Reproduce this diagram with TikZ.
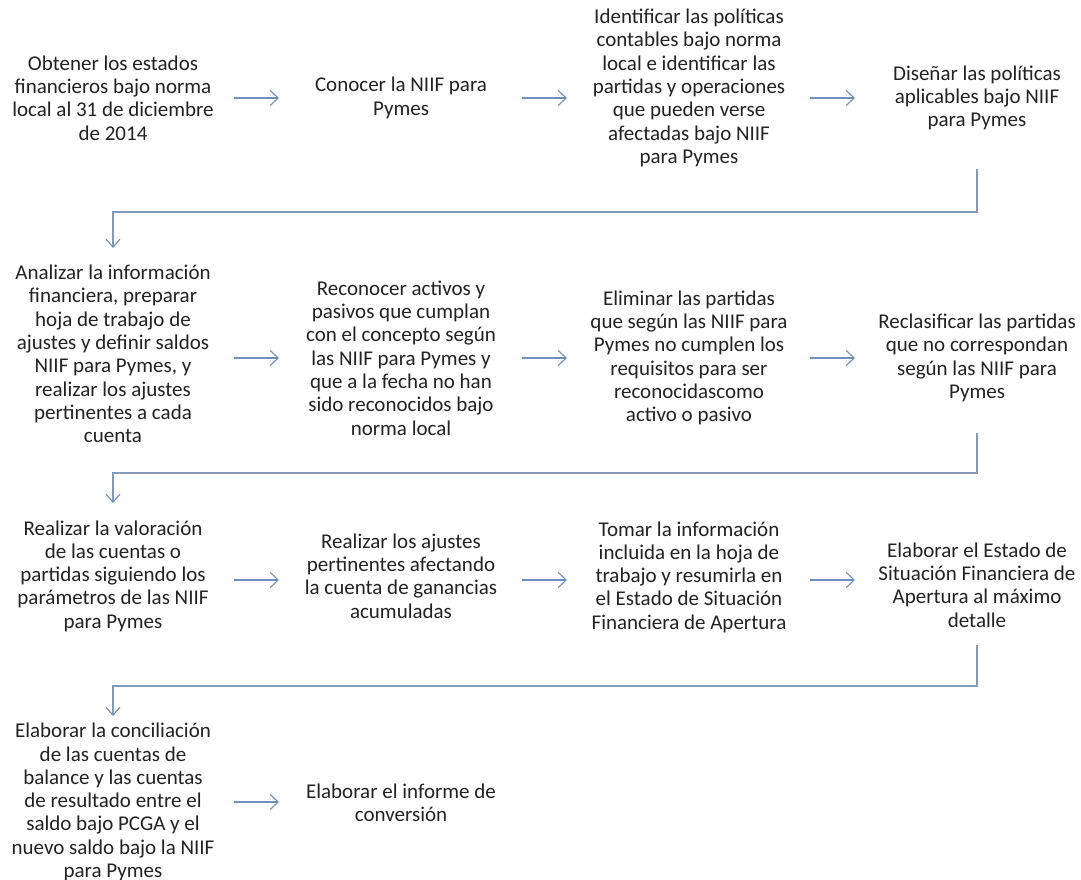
\documentclass[tikz,border=0pt]{standalone}
\usepackage{fontspec}
\setmainfont{Carlito}
\usetikzlibrary{arrows.meta}
\definecolor{txt}{RGB}{34,34,34}
\definecolor{arrowc}{RGB}{112,142,186}
\definecolor{linec}{RGB}{132,152,186}
\begin{document}
\begin{tikzpicture}[x=1pt,y=-1pt,
  stepbox/.style={align=center,inner sep=0pt,text=txt,font=\fontsize{21}{23.3}\selectfont},
  harrow/.style={draw=arrowc,line width=1.1pt,-{Straight Barb[length=8pt,width=15pt]}},
  elbow/.style={draw=linec,line width=1.1pt,-{Straight Barb[length=8pt,width=14pt,color=arrowc]}}]
\useasboundingbox[fill=white] (0,0) rectangle (1081,880);

% Row 1
\node[stepbox] (n1) at (113,98) {Obtener los estados\\financieros bajo norma\\local al 31 de diciembre\\de 2014};
\node[stepbox] (n2) at (401,98) {Conocer la NIIF para\\Pymes};
\node[stepbox] (n3) at (689,88) {Identificar las políticas\\contables bajo norma\\local e identificar las\\partidas y operaciones\\que pueden verse\\afectadas bajo NIIF\\para Pymes};
\node[stepbox] (n4) at (977,98) {Diseñar las políticas\\aplicables bajo NIIF\\para Pymes};

% Row 2
\node[stepbox] (n5) at (113,354) {Analizar la información\\financiera, preparar\\hoja de trabajo de\\ajustes y definir saldos\\NIIF para Pymes, y\\realizar los ajustes\\pertinentes a cada\\cuenta};
\node[stepbox] (n6) at (401,358) {Reconocer activos y\\pasivos que cumplan\\con el concepto según\\las NIIF para Pymes y\\que a la fecha no han\\sido reconocidos bajo\\norma local};
\node[stepbox] (n7) at (689,358) {Eliminar las partidas\\que según las NIIF para\\Pymes no cumplen los\\requisitos para ser\\reconocidascomo\\activo o pasivo};
\node[stepbox] (n8) at (977,358) {Reclasificar las partidas\\que no correspondan\\según las NIIF para\\Pymes};

% Row 3
\node[stepbox] (n9) at (113,576) {Realizar la valoración\\de las cuentas o\\partidas siguiendo los\\parámetros de las NIIF\\para Pymes};
\node[stepbox] (n10) at (401,576) {Realizar los ajustes\\pertinentes afectando\\la cuenta de ganancias\\acumuladas};
\node[stepbox] (n11) at (689,577) {Tomar la información\\incluida en la hoja de\\trabajo y resumirla en\\el Estado de Situación\\Financiera de Apertura};
\node[stepbox] (n12) at (977,585) {Elaborar el Estado de\\Situación Financiera de\\Apertura al máximo\\detalle};

% Row 4
\node[stepbox] (n13) at (113,802) {Elaborar la conciliación\\de las cuentas de\\balance y las cuentas\\de resultado entre el\\saldo bajo PCGA y el\\nuevo saldo bajo la NIIF\\para Pymes};
\node[stepbox] (n14) at (401,803) {Elaborar el informe de\\conversión};

% horizontal arrow end points
\foreach \r/\y in {1/98,2/358,3/580,4/802}{
  \coordinate (a\r s1) at (234,\y); \coordinate (a\r e1) at (279,\y);
  \coordinate (a\r s2) at (522,\y); \coordinate (a\r e2) at (567,\y);
  \coordinate (a\r s3) at (810,\y); \coordinate (a\r e3) at (855,\y);
}
\draw[harrow] (a1s1) -- (a1e1);
\draw[harrow] (a1s2) -- (a1e2);
\draw[harrow] (a1s3) -- (a1e3);
\draw[harrow] (a2s1) -- (a2e1);
\draw[harrow] (a2s2) -- (a2e2);
\draw[harrow] (a2s3) -- (a2e3);
\draw[harrow] (a3s1) -- (a3e1);
\draw[harrow] (a3s2) -- (a3e2);
\draw[harrow] (a3s3) -- (a3e3);
\draw[harrow] (a4s1) -- (a4e1);

% elbow connectors between rows
\coordinate (c1a) at (977,169); \coordinate (c1b) at (113,212); \coordinate (c1c) at (113,248);
\coordinate (c2a) at (977,433); \coordinate (c2b) at (113,473); \coordinate (c2c) at (113,503);
\coordinate (c3a) at (977,645); \coordinate (c3b) at (113,686); \coordinate (c3c) at (113,716);
\draw[elbow] (c1a) |- (c1b) -- (c1c);
\draw[elbow] (c2a) |- (c2b) -- (c2c);
\draw[elbow] (c3a) |- (c3b) -- (c3c);
\end{tikzpicture}
\end{document}
